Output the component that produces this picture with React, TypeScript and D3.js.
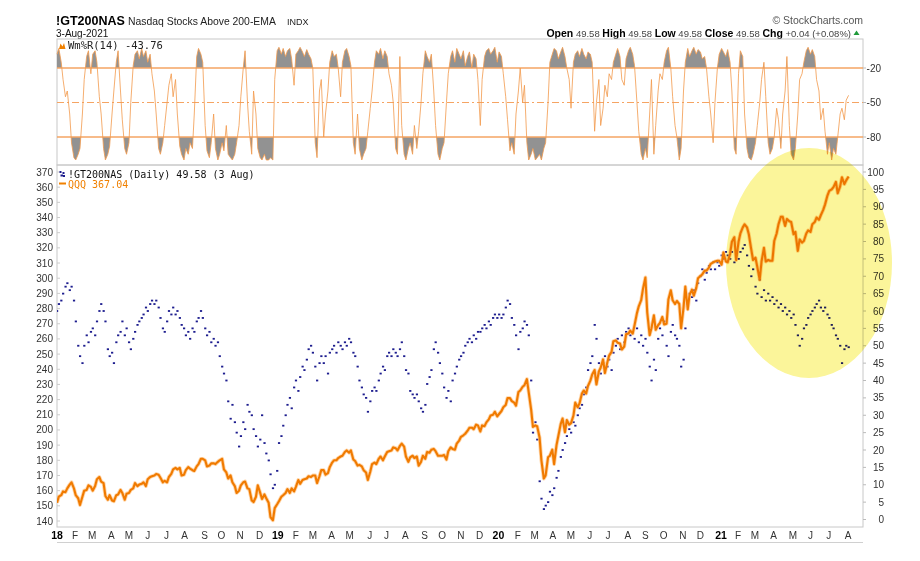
import React from "react";
import * as d3 from "d3";

// ---------- DATA (semi-weekly samples: Tue / Fri, from 2 Jan 2018 to 3 Aug 2021) ----------
const qqqValues = [
  152, 156, 157, 159.5, 159, 161.5, 164, 165.5, 161.5, 157,
  155, 150.5, 156, 160, 160.5, 163.5, 162.5, 160, 163, 167.5,
  169, 166, 165, 156.5, 154, 157, 153.5, 153, 157, 157.5,
  160.5, 158.5, 154, 158, 158.5, 160.5, 161.5, 165, 163, 164,
  164.5, 165.5, 163, 167.5, 169, 169.5, 170, 171, 170.5, 168.5,
  165.5, 166.5, 165.5, 169, 171, 174, 175, 174, 175, 170,
  170.5, 173.5, 175.5, 174.5, 173.5, 173, 176, 177.5, 181, 181,
  180, 176, 176.5, 178, 178, 177.5, 179, 180, 181, 174,
  172, 168, 170, 165.5, 163, 158.5, 160, 163.5, 165.5, 166,
  161.5, 161, 153.5, 152.5, 156, 163.5, 158.5, 154.5, 157.5, 155,
  152, 142.5, 140.5, 148.5, 151, 153, 156, 157, 158.5, 161,
  158.5, 161.5, 159.5, 162.5, 167, 164.5, 167, 167.5, 168, 169.5,
  169, 170, 170, 165, 169.5, 173.5, 173.5, 170.5, 171.5, 175.5,
  178.5, 180, 180, 181.5, 182.5, 183, 185.5, 186.5, 185, 186.5,
  180.5, 179.5, 176.5, 177, 176, 173.5, 172, 167, 172.5, 177.5,
  178.5, 177.5, 181, 182.5, 180, 182.5, 185.5, 186, 186.5, 188.5,
  188, 186.5, 189.5, 191, 189, 182.5, 179, 182, 183, 181.5,
  182.5, 176.5, 179, 183, 181, 185.5, 185, 187, 187.5, 186,
  183, 183, 183, 183.5, 180.5, 186, 188.5, 187.5, 187, 191,
  193, 195.5, 196.5, 197.5, 199.5, 201.5, 201.5, 200.5, 203.5, 203,
  199, 203, 202.5, 205, 207, 209.5, 210, 212, 209, 210.5,
  212.5, 215, 216.5, 221, 221, 219, 218, 216, 225, 226,
  228.5, 229.5, 233.5, 225, 213.5, 202, 203, 202.5, 195, 180,
  168, 170, 182, 183, 187, 177.5, 190, 196, 204, 207.5,
  198.5, 206.5, 203.5, 204.5, 209.5, 218, 215, 217.5, 224, 226,
  224, 229, 232.5, 236.5, 239.5, 230, 238.5, 241, 246.5, 237.5,
  244.5, 249, 251.5, 258.5, 259, 257.5, 257, 253, 255, 263,
  263.5, 265.5, 263.5, 269, 277, 281.5, 285.5, 293, 300.5, 277.5,
  262.5, 267, 275.5, 266, 269, 270.5, 274.5, 269.5, 270, 286,
  292, 285.5, 283, 285, 283, 267, 280.5, 294.5, 279.5, 289,
  292.5, 288.5, 293.5, 300, 301.5, 302.5, 305, 305, 307, 309.5,
  310.5, 311, 311.5, 311.5, 309, 317, 311, 310.5, 316, 324,
  327, 312, 324, 329.5, 333.5, 335.5, 333.5, 329, 319, 312,
  313.5, 307.5, 299, 311, 320, 311, 312, 311.5, 311.5, 324.5,
  329.5, 335.5, 340.5, 340.5, 334.5, 339, 337.5, 337, 329, 330.5,
  318, 325.5, 323.5, 324.5, 329.5, 331.5, 330.5, 335.5, 337, 340,
  338.5, 341.5, 345, 348.5, 354.5, 357.5, 358.5, 360, 363.5, 356,
  360.5, 366.5, 362, 364.5, 367.04,
];

const gtValues = [
  60, 62, 63, 65, 67, 68, 66, 67, 63, 57,
  50, 47, 45, 50, 53, 51, 54, 55, 53, 57,
  60, 62, 60, 57, 49, 47, 48, 45, 51, 53,
  54, 57, 53, 55, 51, 49, 52, 54, 56, 57,
  58, 59, 61, 60, 62, 63, 62, 63, 61, 58,
  55, 54, 57, 60, 59, 61, 59, 60, 58, 56,
  55, 53, 54, 52, 55, 54, 57, 58, 60, 58,
  55, 53, 54, 51, 52, 50, 51, 47, 44, 42,
  40, 34, 29, 33, 28, 25, 21, 24, 28, 26,
  33, 31, 30, 26, 24, 21, 23, 30, 22, 19,
  17, 13, 9, 10, 14, 22, 24, 27, 30, 33,
  35, 32, 38, 40, 37, 41, 44, 43, 46, 49,
  50, 48, 44, 40, 45, 47, 45, 47, 42, 48,
  49, 50, 48, 51, 50, 49, 51, 50, 52, 51,
  48, 47, 44, 40, 38, 36, 35, 31, 34, 37,
  38, 37, 40, 42, 44, 43, 47, 48, 47, 49,
  48, 47, 49, 51, 47, 43, 42, 37, 36, 35,
  36, 34, 32, 31, 33, 39, 41, 43, 49, 51,
  48, 45, 42, 38, 35, 37, 34, 40, 42, 44,
  46, 47, 48, 50, 51, 52, 51, 53, 52, 54,
  54, 55, 56, 55, 57, 56, 58, 59, 58, 59,
  58, 59, 61, 63, 62, 58, 56, 53, 49, 54,
  55, 57, 56, 53, 40, 25, 28, 23, 11, 6,
  3, 4, 5, 8, 7, 9, 12, 14, 18, 20,
  22, 24, 26, 25, 28, 27, 30, 32, 33, 36,
  38, 43, 45, 47, 56, 52, 45, 42, 45, 47,
  44, 46, 43, 48, 50, 52, 49, 53, 51, 54,
  55, 53, 54, 52, 55, 51, 53, 50, 52, 48,
  44, 40, 46, 43, 52, 55, 53, 57, 50, 47,
  54, 56, 53, 52, 50, 44, 46, 55, 62, 65,
  64, 66, 63, 68, 70, 72, 69, 71, 73, 72,
  74, 72, 74, 73, 76, 75, 77, 76, 75, 77,
  74, 76, 75, 77, 78, 79, 76, 73, 70, 72,
  67, 65, 69, 64, 66, 63, 65, 63, 64, 62,
  63, 61, 62, 60, 61, 59, 60, 58, 59, 56,
  53, 50, 52, 55, 56, 58, 59, 60, 61, 62,
  63, 61, 60, 61, 59, 58, 56, 55, 53, 52,
  50, 45, 49, 50, 49.58,
];

const wmrValues = [
  -8, -3, -15, -30, -45, -40, -60, -85, -98, -100,
  -95, -90, -60, -30, -10, -5, -25, -8, -5, -15,
  -45, -60, -90, -100, -95, -88, -60, -40, -15, -5,
  -40, -65, -90, -95, -85, -50, -18, -8, -5, -12,
  -3, -10, -5, -15, -8, -25, -40, -60, -90, -95,
  -85, -70, -50, -35, -25, -45, -30, -60, -88, -95,
  -100, -90, -95, -85, -90, -60, -10, -3, -8, -15,
  -70, -92, -98, -85, -60, -90, -100, -95, -85, -92,
  -70, -95, -98, -100, -95, -85, -70, -45, -20, -5,
  -50, -75, -95, -40, -60, -90, -98, -100, -95, -100,
  -100, -98, -100, -30, -5, -2, -8, -3, -10, -5,
  -3, -12, -35, -8, -5, -2, -6, -10, -4, -8,
  -12, -20, -85, -98, -40, -30, -80, -60, -40, -15,
  -5, -10, -8, -20, -45, -15, -5, -3, -10, -18,
  -85, -95, -60, -90, -100, -95, -90, -75, -55, -40,
  -15, -5, -8, -3, -12, -5, -10, -25, -35, -50,
  -90, -95, -10, -70, -95, -100, -90, -85, -95, -70,
  -90, -75, -50, -25, -5, -10, -15, -8, -40, -70,
  -95, -100, -90, -85, -50, -25, -10, -5, -15, -3,
  -8, -12, -5, -18, -10, -6, -20, -8, -12, -30,
  -70, -30, -10, -5, -3, -8, -5, -2, -15, -6,
  -10, -25, -45, -65, -92, -85, -95, -60, -40, -20,
  -50, -35, -85, -100, -95, -90, -100, -98, -95, -100,
  -90, -85, -50, -15, -8, -3, -5, -12, -6, -2,
  -10, -20, -30, -55, -15, -8, -5, -10, -3, -8,
  -12, -6, -8, -15, -75, -50, -30, -70, -55, -35,
  -45, -25, -30, -15, -8, -3, -10, -30, -35, -12,
  -5, -2, -8, -18, -50, -75, -95, -100, -90, -98,
  -60, -30, -95, -70, -40, -25, -30, -15, -5, -2,
  -20, -45, -70, -80, -100, -90, -40, -15, -3, -10,
  -5, -2, -8, -4, -6, -12, -10, -20, -45, -60,
  -85, -50, -20, -8, -3, -6, -10, -4, -15, -40,
  -90, -95, -25, -5, -10, -60, -90, -98, -100, -95,
  -85, -70, -50, -30, -15, -45, -85, -95, -90, -80,
  -55, -65, -90, -60, -40, -10, -70, -95, -100, -90,
  -60, -30, -25, -15, -5, -2, -8, -4, -10, -30,
  -40, -65, -55, -75, -95, -85, -100, -90, -95, -80,
  -60, -55, -65, -48, -43.76,
];

const leftTicks = [140, 150, 160, 170, 180, 190, 200, 210, 220, 230, 240, 250, 260, 270, 280, 290, 300, 310, 320, 330, 340, 350, 360, 370];
const rightTicks = [0, 5, 10, 15, 20, 25, 30, 35, 40, 45, 50, 55, 60, 65, 70, 75, 80, 85, 90, 95, 100];
const wmrTicks = [-20, -50, -80];
const monthLetters = ["J", "F", "M", "A", "M", "J", "J", "A", "S", "O", "N", "D"];
const yearLabels = ["18", "19", "20", "21"];

// ---------- LAYOUT ----------
const FONT = "'Liberation Sans', Arial, Helvetica, sans-serif";
const MONO = "'DejaVu Sans Mono', 'Liberation Mono', monospace";
const PL = 57, PR = 863;
const TOP_T = 39, TOP_B = 165, MAIN_B = 527;

const DAY = 864e5;
const start = Date.UTC(2018, 0, 2);
const dates = qqqValues.map((_, k) => new Date(start + (7 * Math.floor(k / 2) + 3 * (k % 2)) * DAY));

const x = d3.scaleUtc().domain([new Date(Date.UTC(2018, 0, 2)), new Date(Date.UTC(2021, 7, 2))]).range([57, 848]);
const yL = d3.scaleLinear().domain([140, 370]).range([521, 172]);
const yR = d3.scaleLinear().domain([0, 100]).range([519.5, 172]);
const yW = d3.scaleLinear().domain([-100, 0]).range([160, 45]);

function firstTradingDay(y: number, m: number) {
  let d = new Date(Date.UTC(y, m, m === 0 ? 2 : 1));
  while (d.getUTCDay() === 0 || d.getUTCDay() === 6) d = new Date(d.getTime() + DAY);
  return d;
}

const monthTicks: { date: Date; label: string; year: boolean }[] = [];
for (let y = 2018; y <= 2021; y++) {
  for (let m = 0; m < 12; m++) {
    if (y === 2021 && m > 7) break;
    monthTicks.push({
      date: firstTradingDay(y, m),
      label: m === 0 ? yearLabels[y - 2018] : monthLetters[m],
      year: m === 0,
    });
  }
}

export default function App() {
  const qqqLine = d3.line<number>().x((_, i) => x(dates[i])).y((d) => yL(d))(qqqValues) || "";
  const wmrLine = d3.line<number>().x((_, i) => x(dates[i])).y((d) => yW(d))(wmrValues) || "";
  const obArea = d3.area<number>().x((_, i) => x(dates[i])).y0(yW(-20)).y1((d) => yW(d))(wmrValues) || "";
  const osArea = d3.area<number>().x((_, i) => x(dates[i])).y0(yW(-80)).y1((d) => yW(d))(wmrValues) || "";

  return (
    <div style={{ position: "fixed", left: 0, top: 0, width: 920, height: 561, background: "#fff" }}>
      <svg width={920} height={561} viewBox="0 0 920 561" style={{ display: "block" }} fontFamily={FONT}>
        <defs>
          <clipPath id="obClip"><rect x={PL} y={TOP_T} width={PR - PL} height={yW(-20) - TOP_T} /></clipPath>
          <clipPath id="osClip"><rect x={PL} y={yW(-80)} width={PR - PL} height={TOP_B - yW(-80)} /></clipPath>
          <clipPath id="mainClip"><rect x={PL} y={TOP_B} width={PR - PL} height={MAIN_B - TOP_B} /></clipPath>
        </defs>
        <rect x={0} y={0} width={920} height={561} fill="#fff" />

        {/* Header */}
        <text x={56} y={25} fontWeight="bold" fontSize={12.5} fill="#000">!GT200NAS</text>
        <text x={128} y={25} fontSize={10.4} fill="#222">Nasdaq Stocks Above 200-EMA</text>
        <text x={287} y={25} fontSize={9} fill="#222">INDX</text>
        <text x={56} y={37} fontSize={10} fill="#111">3-Aug-2021</text>
        <text x={863} y={24} textAnchor="end" fontSize={10.5} fill="#555">© StockCharts.com</text>
        <text x={851} y={37} textAnchor="end" fontSize={10.5} fill="#000">
          <tspan fontWeight="bold">Open</tspan>
          <tspan fill="#444" fontSize={9.5}> 49.58  </tspan>
          <tspan fontWeight="bold">High</tspan>
          <tspan fill="#444" fontSize={9.5}> 49.58  </tspan>
          <tspan fontWeight="bold">Low</tspan>
          <tspan fill="#444" fontSize={9.5}> 49.58  </tspan>
          <tspan fontWeight="bold">Close</tspan>
          <tspan fill="#444" fontSize={9.5}> 49.58  </tspan>
          <tspan fontWeight="bold">Chg</tspan>
          <tspan fill="#444" fontSize={9.5}> +0.04 (+0.08%)</tspan>
        </text>
        <path d="M853.5,35 L856.5,30.5 L859.5,35 Z" fill="#1f9a3a" />

        {/* Top panel (Williams %R) */}
        <rect x={PL} y={TOP_T} width={PR - PL} height={TOP_B - TOP_T} fill="#fff" stroke="#c8c8c8" />
        <path d={obArea} fill="#929292" clipPath="url(#obClip)" />
        <path d={osArea} fill="#929292" clipPath="url(#osClip)" />
        {wmrTicks.map((t) => (
          <line key={t} x1={PL} x2={PR} y1={yW(t)} y2={yW(t)} stroke="#f5a463" strokeWidth={t === -50 ? 1 : 1.4}
            strokeDasharray={t === -50 ? "7,3,2,3" : undefined} />
        ))}
        <path d={wmrLine} fill="none" stroke="#f39a4c" strokeWidth={1} strokeOpacity={0.8} />
        {wmrTicks.map((t) => (
          <g key={"wl" + t}>
            <line x1={PR} x2={PR + 3} y1={yW(t)} y2={yW(t)} stroke="#bbb" />
            <text x={881} y={yW(t) + 3.5} textAnchor="end" fontSize={10} fill="#333">{t}</text>
          </g>
        ))}
        <path d="M59,49 L60.5,43.5 L62.5,46.5 L64,43 L65.5,49 Z" fill="#f08000" />
        <text x={68} y={49} fontFamily={MONO} fontSize={10.5} fill="#222">Wm%R(14) -43.76</text>

        {/* Main panel */}
        <rect x={PL} y={TOP_B} width={PR - PL} height={MAIN_B - TOP_B} fill="none" stroke="#c8c8c8" />
        {leftTicks.map((t) => (
          <g key={"l" + t}>
            <line x1={PL} x2={PL + 3} y1={yL(t)} y2={yL(t)} stroke="#ccc" />
            <text x={53} y={yL(t) + 3.5} textAnchor="end" fontSize={10} fill="#333">{t}</text>
          </g>
        ))}
        {rightTicks.map((t) => (
          <g key={"r" + t}>
            <line x1={PR} x2={PR + 3} y1={yR(t)} y2={yR(t)} stroke="#bbb" />
            <text x={884} y={yR(t) + 3.5} textAnchor="end" fontSize={10} fill="#333">{t}</text>
          </g>
        ))}
        <g clipPath="url(#mainClip)">
          {gtValues.map((v, i) => (
            <rect key={"g" + i} x={x(dates[i]) - 1} y={yR(v) - 0.9} width={2.2} height={1.8} fill="#1c1c8e" />
          ))}
          <path d={qqqLine} fill="none" stroke="#ffb25e" strokeWidth={3.8} strokeOpacity={0.55} strokeLinejoin="round" />
          <path d={qqqLine} fill="none" stroke="#f07a00" strokeWidth={2.1} strokeLinejoin="round" />
        </g>
        {/* Legend */}
        <rect x={59.5} y={171} width={2} height={2} fill="#1c1c8e" />
        <rect x={62.5} y={172} width={2} height={2} fill="#1c1c8e" />
        <rect x={60.5} y={174.5} width={2.5} height={2} fill="#1c1c8e" />
        <rect x={63} y={175} width={2} height={2} fill="#1c1c8e" />
        <text x={68} y={177.5} fontFamily={MONO} fontSize={10} fill="#111">!GT200NAS (Daily) 49.58 (3 Aug)</text>
        <line x1={59} x2={66} y1={183.5} y2={183.5} stroke="#f08000" strokeWidth={2} />
        <text x={68} y={187.5} fontFamily={MONO} fontSize={10} fill="#f08000">QQQ 367.04</text>

        {/* X axis labels */}
        {monthTicks.map((m, i) => (
          <text key={"m" + i} x={x(m.date)} y={539} textAnchor="middle" fontSize={m.year ? 10.5 : 10}
            fontWeight={m.year ? "bold" : "normal"} fill={m.year ? "#000" : "#333"}>{m.label}</text>
        ))}
        <line x1={PL} x2={PR} y1={542.5} y2={542.5} stroke="#d0d0d0" />

        {/* Highlight ellipse */}
        <ellipse cx={809} cy={263} rx={83} ry={115} fill="#fbf59a" style={{ mixBlendMode: "multiply" }} />
      </svg>
    </div>
  );
}
